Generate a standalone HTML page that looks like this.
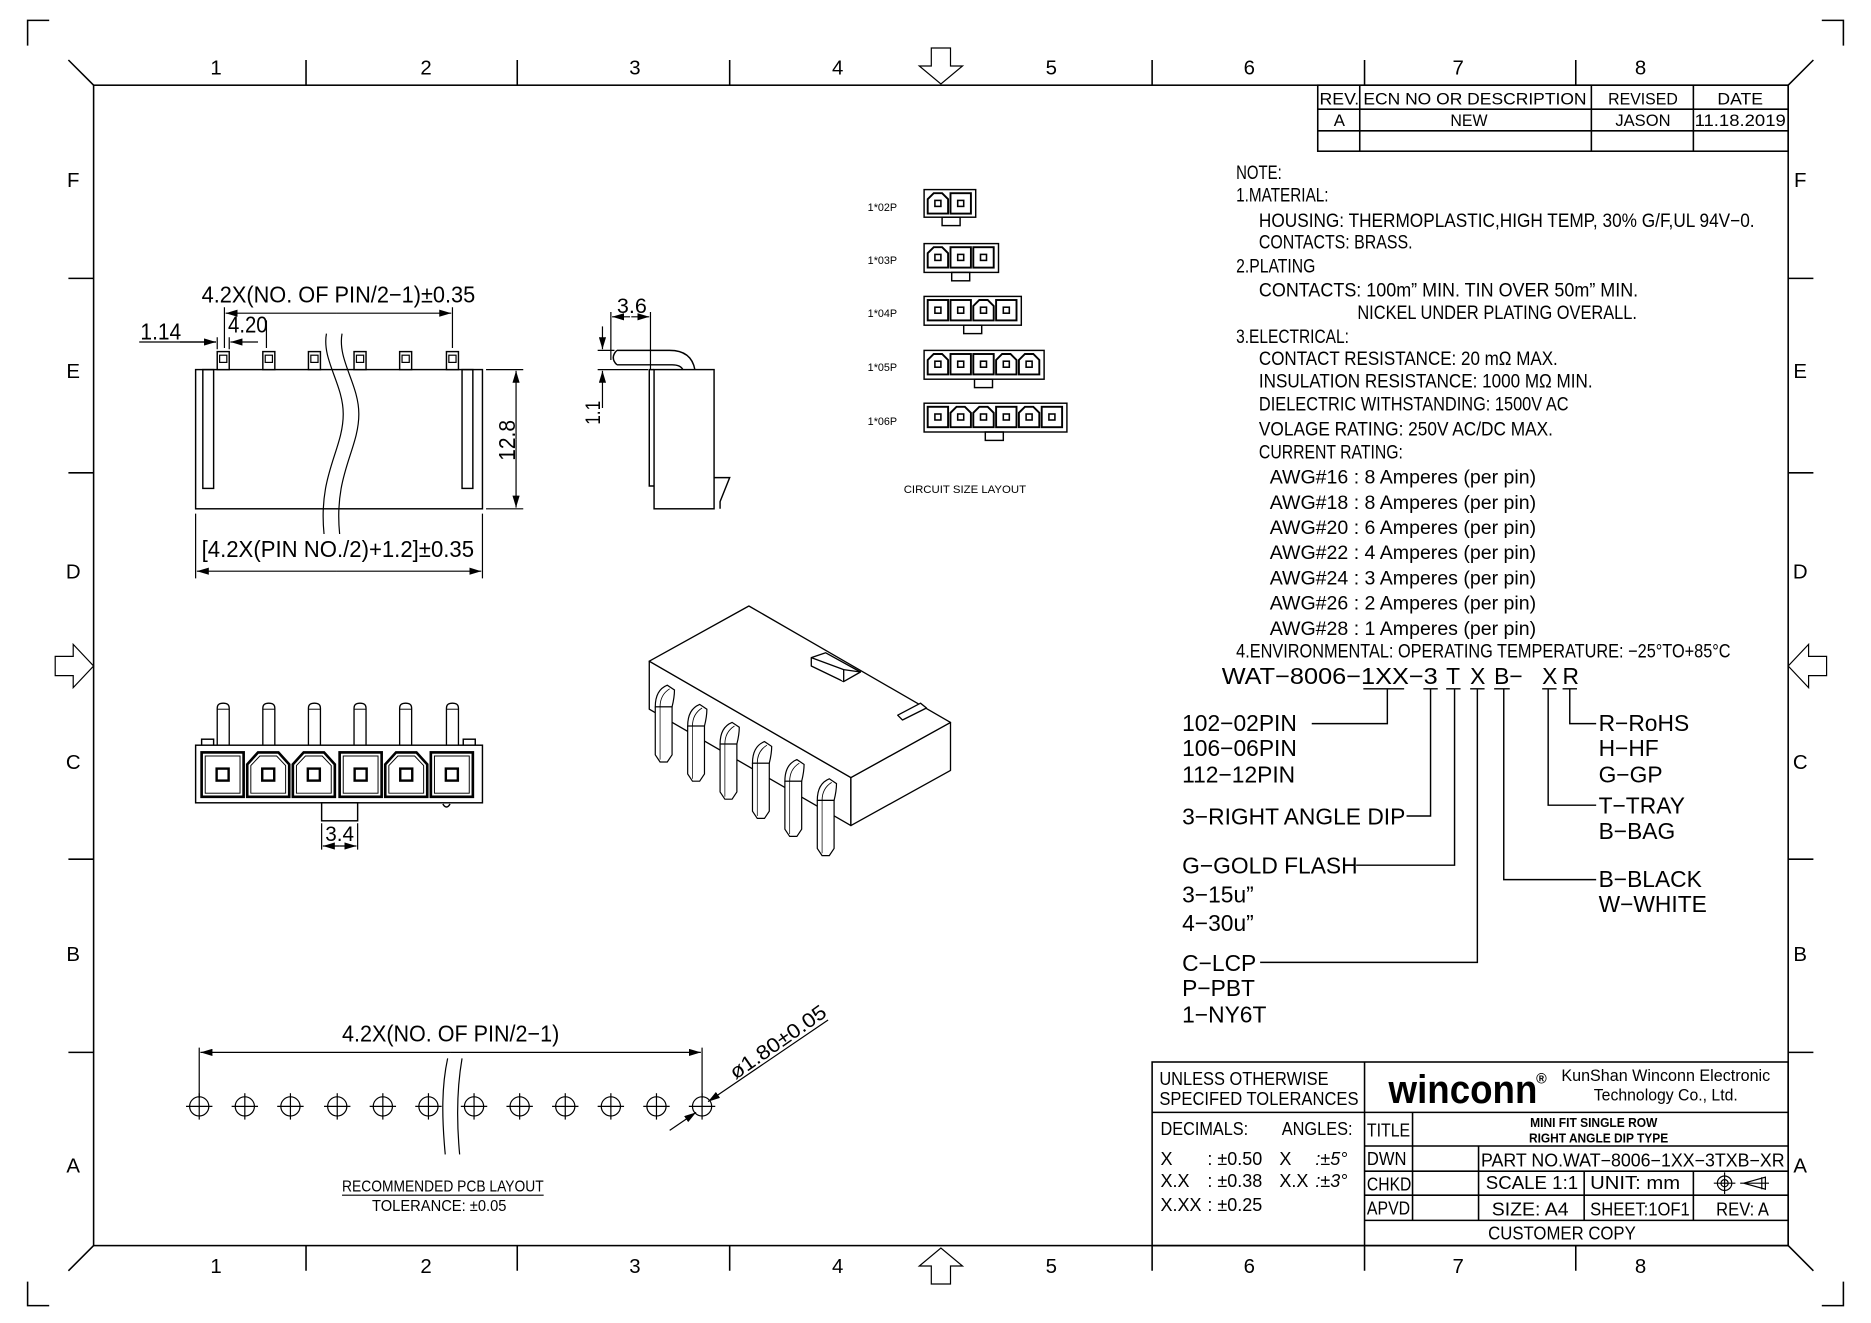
<!DOCTYPE html>
<html><head><meta charset="utf-8"><style>
html,body{margin:0;padding:0;background:#fff;}
svg{display:block;}
text{font-family:"Liberation Sans",sans-serif;fill:#000;}
</style></head><body>
<svg width="1871" height="1323" viewBox="0 0 1559 1102.5" preserveAspectRatio="none" xmlns="http://www.w3.org/2000/svg">
<defs>
<g id="hole"><circle cx="0" cy="0" r="8" fill="none" stroke="#000" stroke-width="1"/><line x1="-11" y1="0" x2="11" y2="0" stroke="#000" stroke-width="1"/><line x1="0" y1="-11" x2="0" y2="11" stroke="#000" stroke-width="1"/></g>
<g id="fpin"><rect x="-5" y="0" width="10" height="15" fill="#fff" stroke="#000" stroke-width="1.2"/><rect x="-3" y="3" width="6" height="6" fill="none" stroke="#000" stroke-width="1"/></g>
<g id="bpin"><path d="M-5,35 L-5,4 Q-5,0 0,0 Q5,0 5,4 L5,35" fill="#fff" stroke="#000" stroke-width="1.1"/><line x1="-5" y1="5" x2="5" y2="5" stroke="#000" stroke-width="0.8"/></g>
<g id="cell"><rect x="0" y="0" width="35" height="37" fill="#fff" stroke="#000" stroke-width="2.2"/><rect x="3" y="3" width="29" height="31" fill="none" stroke="#000" stroke-width="0.8"/><rect x="12.5" y="13.5" width="10" height="10" fill="none" stroke="#000" stroke-width="2"/></g>
<g id="cellc"><path d="M0,37 L0,10 L9,0 L26,0 L35,10 L35,37 Z" fill="#fff" stroke="#000" stroke-width="2.2"/><path d="M3,34 L3,11 L10.5,3 L24.5,3 L32,11 L32,34 Z" fill="none" stroke="#000" stroke-width="0.8"/><rect x="12.5" y="13.5" width="10" height="10" fill="none" stroke="#000" stroke-width="2"/></g>
<g id="sc"><rect x="0" y="0" width="17" height="17" fill="#fff" stroke="#000" stroke-width="1.6"/><rect x="6" y="6" width="5" height="5" fill="none" stroke="#000" stroke-width="1.3"/></g>
<g id="scc"><path d="M0,17 L0,5 L5,0 L12,0 L17,5 L17,17 Z" fill="#fff" stroke="#000" stroke-width="1.6"/><rect x="6" y="6" width="5" height="5" fill="none" stroke="#000" stroke-width="1.3"/></g>
<g id="isopin"><path d="M0,18 L0,58 L4,64 L10,64 L14,58 L14,18" fill="#fff" stroke="#000" stroke-width="1"/><path d="M0,18 Q0,4 10,0 L16,4 Q16,10 14,18 Z" fill="#fff" stroke="#000" stroke-width="1"/><line x1="0" y1="18" x2="14" y2="18" stroke="#000" stroke-width="0.8"/><path d="M4,18 Q4,8 12,3" fill="none" stroke="#000" stroke-width="0.7"/><line x1="4" y1="18" x2="4" y2="62" stroke="#000" stroke-width="0.6"/></g>
<marker id="ar" markerWidth="10" markerHeight="6" refX="10" refY="3" orient="auto" markerUnits="userSpaceOnUse"><path d="M0,0 L10,3 L0,6 Z" fill="#000"/></marker>
</defs>

<!-- frame -->
<g stroke="#000" fill="none" stroke-width="1.3">
<rect x="78" y="71" width="1412" height="967"/>
<path d="M23,38 L23,17 L41,17 M1518,17 L1536,17 L1536,38 M23,1068 L23,1088 L41,1088 M1518,1088 L1536,1088 L1536,1068"/>
<path d="M57,50 L78,71 M1511,50 L1490,71 M57,1059 L78,1038 M1511,1059 L1490,1038"/>
<path d="M255,50 V71 M431,50 V71 M608,50 V71 M960,50 V71 M1137,50 V71 M1313,50 V71"/>
<path d="M255,1038 V1059 M431,1038 V1059 M608,1038 V1059 M960,1038 V1059 M1137,1038 V1059 M1313,1038 V1059"/>
<path d="M57,232 H78 M57,394 H78 M57,716 H78 M57,877 H78"/>
<path d="M1490,232 H1511 M1490,394 H1511 M1490,716 H1511 M1490,877 H1511"/>
<!-- arrows -->
<path d="M776,40 H792 V55 H802 L784,70 L766,55 H776 Z" stroke-width="1"/>
<path d="M776,1070 H792 V1055 H802 L784,1040 L766,1055 H776 Z" stroke-width="1"/>
<path d="M46,547 V563 H61 V573 L78,555 L61,537 V547 Z" stroke-width="1"/>
<path d="M1522,547 V563 H1507 V573 L1490,555 L1507,537 V547 Z" stroke-width="1"/>
</g>
<g font-size="17" fill="#333" text-anchor="middle">
<text x="180" y="62">1</text><text x="355" y="62">2</text><text x="529" y="62">3</text><text x="698" y="62">4</text><text x="876" y="62">5</text><text x="1041" y="62">6</text><text x="1215" y="62">7</text><text x="1367" y="62">8</text>
<text x="180" y="1061">1</text><text x="355" y="1061">2</text><text x="529" y="1061">3</text><text x="698" y="1061">4</text><text x="876" y="1061">5</text><text x="1041" y="1061">6</text><text x="1215" y="1061">7</text><text x="1367" y="1061">8</text>
<text x="61" y="156">F</text><text x="61" y="315">E</text><text x="61" y="482">D</text><text x="61" y="641">C</text><text x="61" y="801">B</text><text x="61" y="977">A</text>
<text x="1500" y="156">F</text><text x="1500" y="315">E</text><text x="1500" y="482">D</text><text x="1500" y="641">C</text><text x="1500" y="801">B</text><text x="1500" y="977">A</text>
</g>

<!-- revision table -->
<g stroke="#000" fill="none" stroke-width="1.3">
<rect x="1098" y="71" width="392" height="55"/>
<path d="M1098,91 H1490 M1098,109 H1490 M1133,71 V126 M1326,71 V126 M1411,71 V126"/>
</g>
<g font-size="14" text-anchor="middle">
<text x="1116" y="87" textLength="33" lengthAdjust="spacingAndGlyphs">REV.</text>
<text x="1229" y="87" textLength="186" lengthAdjust="spacingAndGlyphs">ECN NO OR DESCRIPTION</text>
<text x="1369" y="87" textLength="58" lengthAdjust="spacingAndGlyphs">REVISED</text>
<text x="1450" y="87" textLength="38" lengthAdjust="spacingAndGlyphs">DATE</text>
<text x="1116" y="105">A</text>
<text x="1224" y="105" textLength="31" lengthAdjust="spacingAndGlyphs">NEW</text>
<text x="1369" y="105" textLength="46" lengthAdjust="spacingAndGlyphs">JASON</text>
<text x="1450" y="105" textLength="76" lengthAdjust="spacingAndGlyphs">11.18.2019</text>
</g>

<!-- notes -->
<g font-size="16" lengthAdjust="spacingAndGlyphs">
<text x="1030" y="149" textLength="38" lengthAdjust="spacingAndGlyphs">NOTE:</text>
<text x="1030" y="168" textLength="77" lengthAdjust="spacingAndGlyphs">1.MATERIAL:</text>
<text x="1049" y="189" textLength="413" lengthAdjust="spacingAndGlyphs">HOUSING: THERMOPLASTIC,HIGH TEMP, 30% G/F,UL 94V−0.</text>
<text x="1049" y="207" textLength="128" lengthAdjust="spacingAndGlyphs">CONTACTS: BRASS.</text>
<text x="1030" y="227" textLength="66" lengthAdjust="spacingAndGlyphs">2.PLATING</text>
<text x="1049" y="247" textLength="316" lengthAdjust="spacingAndGlyphs">CONTACTS: 100m” MIN. TIN OVER 50m” MIN.</text>
<text x="1131" y="266" textLength="233" lengthAdjust="spacingAndGlyphs">NICKEL UNDER PLATING OVERALL.</text>
<text x="1030" y="286" textLength="94" lengthAdjust="spacingAndGlyphs">3.ELECTRICAL:</text>
<text x="1049" y="304" textLength="249" lengthAdjust="spacingAndGlyphs">CONTACT RESISTANCE: 20 mΩ MAX.</text>
<text x="1049" y="323" textLength="278" lengthAdjust="spacingAndGlyphs">INSULATION RESISTANCE: 1000 MΩ MIN.</text>
<text x="1049" y="342" textLength="258" lengthAdjust="spacingAndGlyphs">DIELECTRIC WITHSTANDING: 1500V AC</text>
<text x="1049" y="363" textLength="245" lengthAdjust="spacingAndGlyphs">VOLAGE RATING: 250V AC/DC MAX.</text>
<text x="1049" y="382" textLength="120" lengthAdjust="spacingAndGlyphs">CURRENT RATING:</text>
<text x="1058" y="403" textLength="222" lengthAdjust="spacingAndGlyphs">AWG#16 : 8 Amperes (per pin)</text>
<text x="1058" y="424" textLength="222" lengthAdjust="spacingAndGlyphs">AWG#18 : 8 Amperes (per pin)</text>
<text x="1058" y="445" textLength="222" lengthAdjust="spacingAndGlyphs">AWG#20 : 6 Amperes (per pin)</text>
<text x="1058" y="466" textLength="222" lengthAdjust="spacingAndGlyphs">AWG#22 : 4 Amperes (per pin)</text>
<text x="1058" y="487" textLength="222" lengthAdjust="spacingAndGlyphs">AWG#24 : 3 Amperes (per pin)</text>
<text x="1058" y="508" textLength="222" lengthAdjust="spacingAndGlyphs">AWG#26 : 2 Amperes (per pin)</text>
<text x="1058" y="529" textLength="222" lengthAdjust="spacingAndGlyphs">AWG#28 : 1 Amperes (per pin)</text>
<text x="1030" y="548" textLength="412" lengthAdjust="spacingAndGlyphs">4.ENVIRONMENTAL: OPERATING TEMPERATURE: −25°TO+85°C</text>
</g>

<!-- part number breakdown -->
<g font-size="19">
<text x="1018" y="570" textLength="180" lengthAdjust="spacingAndGlyphs">WAT−8006−1XX−3</text>
<text x="1205" y="570">T</text><text x="1225" y="570">X</text><text x="1245" y="570">B−</text><text x="1285" y="570">X</text><text x="1302" y="570">R</text>
<text x="985" y="609">102−02PIN</text><text x="985" y="630">106−06PIN</text><text x="985" y="652">112−12PIN</text>
<text x="985" y="687">3−RIGHT ANGLE DIP</text>
<text x="985" y="728">G−GOLD FLASH</text><text x="985" y="752">3−15u”</text><text x="985" y="776">4−30u”</text>
<text x="985" y="809">C−LCP</text><text x="985" y="830">P−PBT</text><text x="985" y="852">1−NY6T</text>
<text x="1332" y="609">R−RoHS</text><text x="1332" y="630">H−HF</text><text x="1332" y="652">G−GP</text>
<text x="1332" y="678">T−TRAY</text><text x="1332" y="699">B−BAG</text>
<text x="1332" y="739">B−BLACK</text><text x="1332" y="760">W−WHITE</text>
</g>
<g stroke="#000" fill="none" stroke-width="1.2">
<path d="M1136,574 H1170 M1186,574 H1198 M1205,574 H1217 M1225,574 H1237 M1245,574 H1258 M1285,574 H1297 M1302,574 H1314"/>
<path d="M1156,574 V603 H1093 M1192,574 V680 H1172 M1212,574 V721 H1130 M1231,574 V802 H1050 M1253,574 V733 H1330 M1290,574 V671 H1330 M1308,574 V603 H1330"/>
</g>

<!-- title block -->
<g stroke="#000" fill="none" stroke-width="1.3">
<rect x="960" y="885" width="530" height="153"/>
<path d="M1137,885 V1038 M960,927 H1490 M1137,955 H1490 M1137,976 H1490 M1137,996 H1490 M1137,1017 H1490 M1177,927 V1017 M1232,955 V1017 M1320,976 V1017 M1411,976 V1017"/>
</g>
<g font-size="15">
<text x="966" y="904" textLength="141" lengthAdjust="spacingAndGlyphs">UNLESS OTHERWISE</text>
<text x="966" y="921" textLength="166" lengthAdjust="spacingAndGlyphs">SPECIFED TOLERANCES</text>
<text x="967" y="946" textLength="73" lengthAdjust="spacingAndGlyphs">DECIMALS:</text>
<text x="1068" y="946" textLength="59" lengthAdjust="spacingAndGlyphs">ANGLES:</text>
<text x="967" y="971">X</text><text x="1006" y="971">: ±0.50</text><text x="1066" y="971">X</text><text x="1096" y="971" font-style="italic">:±5°</text>
<text x="967" y="989">X.X</text><text x="1006" y="989">: ±0.38</text><text x="1066" y="989">X.X</text><text x="1096" y="989" font-style="italic">:±3°</text>
<text x="967" y="1009">X.XX</text><text x="1006" y="1009">: ±0.25</text>
<text x="1139" y="947" textLength="36" lengthAdjust="spacingAndGlyphs">TITLE</text>
<text x="1139" y="971" textLength="33" lengthAdjust="spacingAndGlyphs">DWN</text>
<text x="1139" y="992" textLength="37" lengthAdjust="spacingAndGlyphs">CHKD</text>
<text x="1139" y="1012" textLength="36" lengthAdjust="spacingAndGlyphs">APVD</text>
<text x="1234" y="972" textLength="253" lengthAdjust="spacingAndGlyphs">PART NO.WAT−8006−1XX−3TXB−XR</text>
<text x="1238" y="991" textLength="77" lengthAdjust="spacingAndGlyphs">SCALE 1:1</text>
<text x="1325" y="991" textLength="75" lengthAdjust="spacingAndGlyphs">UNIT: mm</text>
<text x="1243" y="1013" textLength="64" lengthAdjust="spacingAndGlyphs">SIZE: A4</text>
<text x="1325" y="1013" textLength="83" lengthAdjust="spacingAndGlyphs">SHEET:1OF1</text>
<text x="1430" y="1013" textLength="44" lengthAdjust="spacingAndGlyphs">REV: A</text>
<text x="1240" y="1033" textLength="123" lengthAdjust="spacingAndGlyphs">CUSTOMER COPY</text>
</g>
<g font-size="11" text-anchor="middle" font-weight="bold">
<text x="1328" y="939" textLength="106" lengthAdjust="spacingAndGlyphs">MINI FIT SINGLE ROW</text>
<text x="1332" y="952" textLength="116" lengthAdjust="spacingAndGlyphs">RIGHT ANGLE DIP TYPE</text>
</g>
<text x="1157" y="919" font-size="33" font-weight="bold" textLength="124" lengthAdjust="spacingAndGlyphs">winconn</text>
<text x="1280" y="903" font-size="12" font-weight="bold">®</text>
<text x="1301" y="901" font-size="14" textLength="174" lengthAdjust="spacingAndGlyphs">KunShan Winconn Electronic</text>
<text x="1328" y="917" font-size="14" textLength="120" lengthAdjust="spacingAndGlyphs">Technology Co., Ltd.</text>
<g stroke="#000" fill="none" stroke-width="1">
<circle cx="1437" cy="986" r="6"/><circle cx="1437" cy="986" r="3"/><path d="M1428,986 H1446 M1437,977 V995"/>
<path d="M1453,986 L1471,981 V991 Z M1450,986 H1474 M1468,981 V991"/>
</g>

<!-- front view -->
<g stroke="#000" fill="none" stroke-width="1.2">
<rect x="163" y="308" width="239" height="116"/>
<rect x="169" y="308" width="9" height="99"/>
<rect x="385" y="308" width="9" height="99"/>
</g>
<use href="#fpin" x="186" y="293"/><use href="#fpin" x="224" y="293"/><use href="#fpin" x="262" y="293"/><use href="#fpin" x="300" y="293"/><use href="#fpin" x="338" y="293"/><use href="#fpin" x="377" y="293"/>
<g stroke="#000" fill="none" stroke-width="1">
<path d="M272,278 C268,300 286,320 286,345 C286,375 265,395 270,445"/>
<path d="M285,278 C281,300 299,320 299,345 C299,375 278,395 283,445"/>
<!-- 12.8 -->
<path d="M405,308 H436 M405,424 H436"/>
<line x1="430" y1="366" x2="430" y2="309" marker-end="url(#ar)"/>
<line x1="430" y1="366" x2="430" y2="423" marker-end="url(#ar)"/>
<!-- bottom dim -->
<path d="M163,428 V482 M402,428 V482"/>
<line x1="280" y1="476" x2="164" y2="476" marker-end="url(#ar)"/>
<line x1="280" y1="476" x2="401" y2="476" marker-end="url(#ar)"/>
<!-- top dim -->
<path d="M187,256 V290 M377,256 V290"/>
<line x1="280" y1="261" x2="188" y2="261" marker-end="url(#ar)"/>
<line x1="280" y1="261" x2="376" y2="261" marker-end="url(#ar)"/>
<!-- 1.14 / 4.20 -->
<path d="M116,285 H180 M181,281 V291 M191,281 V291 M222,267 V290"/>
<line x1="150" y1="285" x2="180" y2="285" marker-end="url(#ar)"/>
<line x1="215" y1="285" x2="192" y2="285" marker-end="url(#ar)"/>
</g>
<g font-size="19">
<text x="168" y="252" textLength="228" lengthAdjust="spacingAndGlyphs">4.2X(NO. OF PIN/2−1)±0.35</text>
<text x="168" y="464" textLength="227" lengthAdjust="spacingAndGlyphs">[4.2X(PIN NO./2)+1.2]±0.35</text>
<text x="117" y="283" textLength="34" lengthAdjust="spacingAndGlyphs">1.14</text>
<text x="190" y="277" textLength="33" lengthAdjust="spacingAndGlyphs">4.20</text>
<text transform="translate(429,384) rotate(-90)" textLength="34" lengthAdjust="spacingAndGlyphs">12.8</text>
</g>

<!-- side view -->
<g stroke="#000" fill="none" stroke-width="1.2">
<rect x="545" y="308" width="50" height="116"/>
<path d="M545,308 H541 V405 H545"/>
<path d="M595,398 H608 L600,418 V424"/>
<path d="M514,292 H558 Q576,292 579,308 M514,304 H560 Q567,304 569,308 M514,292 Q508,298 514,304"/>
<path d="M509,260 V300 M542,260 V308" stroke-width="1"/>
<line x1="525" y1="264" x2="510" y2="264" marker-end="url(#ar)" stroke-width="1"/>
<line x1="526" y1="264" x2="541" y2="264" marker-end="url(#ar)" stroke-width="1"/>
<path d="M498,292 H512 M498,308 H540" stroke-width="1"/>
<line x1="502" y1="272" x2="502" y2="291" marker-end="url(#ar)" stroke-width="1"/>
<line x1="502" y1="340" x2="502" y2="309" marker-end="url(#ar)" stroke-width="1"/>
</g>
<text x="514" y="261" font-size="18" textLength="25" lengthAdjust="spacingAndGlyphs">3.6</text>
<text transform="translate(500,354) rotate(-90)" font-size="18" textLength="20" lengthAdjust="spacingAndGlyphs">1.1</text>

<!-- bottom view -->
<use href="#bpin" x="186" y="586"/><use href="#bpin" x="224" y="586"/><use href="#bpin" x="262" y="586"/><use href="#bpin" x="300" y="586"/><use href="#bpin" x="338" y="586"/><use href="#bpin" x="377" y="586"/>
<g stroke="#000" fill="none" stroke-width="1.2">
<rect x="168" y="616" width="10" height="5"/><rect x="386" y="616" width="10" height="5"/>
<rect x="163" y="621" width="239" height="48" fill="#fff"/>
<rect x="268" y="669" width="30" height="15"/>
<path d="M369,670 Q372,675 375,670"/>
<path d="M268,686 V708 M298,686 V708" stroke-width="1"/>
<line x1="283" y1="705" x2="269" y2="705" marker-end="url(#ar)" stroke-width="1"/>
<line x1="283" y1="705" x2="297" y2="705" marker-end="url(#ar)" stroke-width="1"/>
</g>
<use href="#cell" x="168" y="627"/><use href="#cellc" x="206" y="627"/><use href="#cellc" x="244" y="627"/><use href="#cell" x="283" y="627"/><use href="#cellc" x="321" y="627"/><use href="#cell" x="359" y="627"/>
<text x="271" y="701" font-size="18" textLength="24" lengthAdjust="spacingAndGlyphs">3.4</text>

<!-- circuit size layout -->
<g font-size="9">
<text x="723" y="176">1*02P</text><text x="723" y="220">1*03P</text><text x="723" y="264">1*04P</text><text x="723" y="309">1*05P</text><text x="723" y="354">1*06P</text>
<text x="753" y="411" font-size="9.5" textLength="102" lengthAdjust="spacingAndGlyphs">CIRCUIT SIZE LAYOUT</text>
</g>
<g stroke="#000" fill="none" stroke-width="1.2">
<rect x="770" y="158" width="43" height="23"/><rect x="785" y="181" width="15" height="7"/>
<rect x="770" y="203" width="62" height="24"/><rect x="793" y="227" width="15" height="7"/>
<rect x="770" y="247" width="81" height="24"/><rect x="803" y="271" width="15" height="7"/>
<rect x="770" y="292" width="100" height="24"/><rect x="812" y="316" width="15" height="7"/>
<rect x="770" y="336" width="119" height="24"/><rect x="821" y="360" width="15" height="7"/>
</g>
<use href="#scc" x="773" y="161"/><use href="#sc" x="792" y="161"/>
<use href="#scc" x="773" y="206"/><use href="#sc" x="792" y="206"/><use href="#sc" x="811" y="206"/>
<use href="#sc" x="773" y="250"/><use href="#sc" x="792" y="250"/><use href="#scc" x="811" y="250"/><use href="#sc" x="830" y="250"/>
<use href="#scc" x="773" y="295"/><use href="#sc" x="792" y="295"/><use href="#sc" x="811" y="295"/><use href="#scc" x="830" y="295"/><use href="#scc" x="849" y="295"/>
<use href="#sc" x="773" y="339"/><use href="#scc" x="792" y="339"/><use href="#scc" x="811" y="339"/><use href="#sc" x="830" y="339"/><use href="#scc" x="849" y="339"/><use href="#sc" x="868" y="339"/>

<!-- isometric view -->
<g stroke="#000" fill="#fff" stroke-width="1.1" stroke-linejoin="round">
<path d="M541,551 L709,648 L709,688 L541,591 Z"/>
<path d="M709,648 L792,602 L792,642 L709,688 Z"/>
<path d="M541,551 L624,505 L792,602 L709,648 Z"/>
<path d="M676,548 L688,544 L717,560 L703,568 L676,555 Z"/>
<path d="M703,568 V558 L676,548 M703,558 L717,560"/>
<path d="M748,596 L767,586 L772,590 L752,600 Z"/>
</g>
<use href="#isopin" x="546" y="571"/><use href="#isopin" x="573" y="587"/><use href="#isopin" x="600" y="602"/><use href="#isopin" x="627" y="618"/><use href="#isopin" x="654" y="633"/><use href="#isopin" x="681" y="649"/>

<!-- PCB layout -->
<use href="#hole" x="166" y="922"/><use href="#hole" x="204" y="922"/><use href="#hole" x="242" y="922"/><use href="#hole" x="281" y="922"/><use href="#hole" x="319" y="922"/><use href="#hole" x="357" y="922"/><use href="#hole" x="395" y="922"/><use href="#hole" x="433" y="922"/><use href="#hole" x="471" y="922"/><use href="#hole" x="509" y="922"/><use href="#hole" x="547" y="922"/><use href="#hole" x="585" y="922"/>
<g stroke="#000" fill="none" stroke-width="1">
<path d="M373,882 C368,905 368,930 371,962 M385,882 C381,905 380,930 383,962"/>
<path d="M166,873 V915 M585,873 V915"/>
<line x1="375" y1="877" x2="167" y2="877" marker-end="url(#ar)"/>
<line x1="375" y1="877" x2="584" y2="877" marker-end="url(#ar)"/>
<line x1="690" y1="850" x2="590" y2="918" marker-end="url(#ar)"/>
<line x1="558" y1="942" x2="580" y2="927" marker-end="url(#ar)"/>
</g>
<text x="285" y="868" font-size="19" textLength="181" lengthAdjust="spacingAndGlyphs">4.2X(NO. OF PIN/2−1)</text>
<text transform="translate(613,900) rotate(-35)" font-size="17" textLength="94" lengthAdjust="spacingAndGlyphs">ø1.80±0.05</text>
<text x="285" y="993" font-size="13" textLength="168" lengthAdjust="spacingAndGlyphs">RECOMMENDED PCB LAYOUT</text>
<line x1="285" y1="996" x2="453" y2="996" stroke="#000" stroke-width="1"/>
<text x="310" y="1009" font-size="13" textLength="112" lengthAdjust="spacingAndGlyphs">TOLERANCE: ±0.05</text>
</svg>
</body></html>
